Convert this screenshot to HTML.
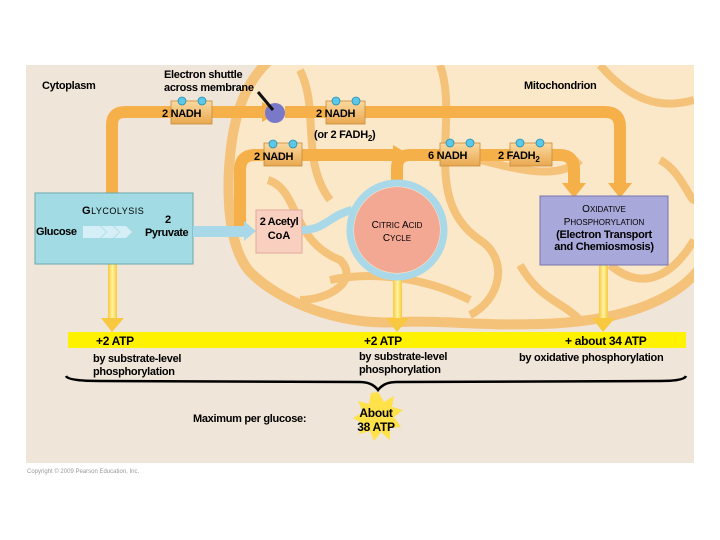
<!DOCTYPE html>
<html><head><meta charset="utf-8"><style>
html,body{margin:0;padding:0;background:#fff;}
svg{display:block;font-family:"Liberation Sans",Arial,sans-serif;}
</style></head><body>
<svg width="720" height="540" viewBox="0 0 720 540" xmlns="http://www.w3.org/2000/svg">
<defs>
<linearGradient id="yg" x1="0" x2="1"><stop offset="0" stop-color="#f7c840"/><stop offset="0.5" stop-color="#fff4a0"/><stop offset="1" stop-color="#f7c840"/></linearGradient>
<linearGradient id="nb" x1="0" y1="0" x2="0" y2="1"><stop offset="0" stop-color="#fbd9a0"/><stop offset="1" stop-color="#e8a850"/></linearGradient>
<clipPath id="pc"><rect x="26" y="65" width="668" height="398"/></clipPath>
</defs>
<rect x="26" y="65" width="668" height="398" fill="#efe5d8"/>
<g clip-path="url(#pc)">
<path d="M275,55 L710,55 L710,250 C690,300 620,322 540,324 C480,326 440,320 400,322 C340,326 280,302 250,272 C222,240 226,160 236,120 C243,92 255,72 275,55 Z" fill="#fbe8c8" stroke="#f5c27a" stroke-width="10"/>
<g fill="none" stroke="#f5c27a" stroke-width="8">
<path d="M300,70 C320,110 300,160 330,200"/>
<path d="M268,180 C300,190 290,240 340,260 C360,280 330,300 300,300"/>
<path d="M330,280 C380,270 430,280 470,300"/>
<path d="M440,65 C460,120 420,200 480,240 C510,260 500,300 470,315"/>
<path d="M480,160 C520,170 560,180 580,160"/>
<path d="M600,65 C630,100 660,110 694,100"/>
<path d="M610,265 C640,290 670,280 694,240"/>
<path d="M520,265 C540,300 560,300 580,320"/>
<path d="M660,160 C680,170 690,200 694,200"/>
</g>
</g>
<g fill="none" stroke="#f5b04a" stroke-width="12" stroke-linejoin="round">
<path d="M112,196 L112,125 Q112,112 125,112 L265,112"/>
<path d="M285,112 L605,112 Q620,112 620,127 L620,185"/>
<path d="M240,228 L240,170 Q240,155 255,155 L395,155"/>
<path d="M397,185 L397,168 Q397,155 410,155 L560,155 Q574,155 574,170 L574,185"/>
</g>
<g fill="#f5b04a">
<polygon points="262,102 280,112 262,122"/>
<polygon points="393,145 410,155 393,165"/>
<polygon points="608,183 632,183 620,198"/>
<polygon points="562,183 586,183 574,198"/>
</g>
<circle cx="275" cy="113" r="10" fill="#7a78c8"/>
<line x1="258" y1="92" x2="273" y2="110" stroke="#111" stroke-width="3"/>
<rect x="108" y="264" width="9" height="56" fill="url(#yg)"/>
<polygon points="101,318 124,318 112,332" fill="#f7c840"/>
<rect x="393" y="280" width="9" height="40" fill="url(#yg)"/>
<polygon points="386,318 409,318 397,332" fill="#f7c840"/>
<rect x="599" y="265" width="9" height="55" fill="url(#yg)"/>
<polygon points="592,318 615,318 603,332" fill="#f7c840"/>
<rect x="35" y="193" width="158" height="71" fill="#a2dbe3" stroke="#6aa8b0"/>
<text x="82" y="214" font-size="11" font-weight="bold" letter-spacing="0.5">G<tspan font-size="9" font-weight="normal">LYCOLYSIS</tspan></text>
<polygon points="83,226 100,226 106,232 100,238 83,238" fill="#d6eef5"/>
<polygon points="101,226 113,226 119,232 113,238 101,238 107,232" fill="#d6eef5"/>
<polygon points="114,226 126,226 132,232 126,238 114,238 120,232" fill="#d6eef5"/>
<g font-weight="bold" font-size="11" letter-spacing="-0.4">
<text x="36" y="235">Glucose</text>
<text x="165" y="223">2</text>
<text x="145" y="236">Pyruvate</text>
</g>
<rect x="193" y="226" width="52" height="11" fill="#a9d8e8"/>
<polygon points="244,221 256,231 244,241" fill="#a9d8e8"/>
<rect x="256" y="210" width="46" height="43" fill="#f9d0c0" stroke="#e0a898"/>
<text x="279" y="225" font-size="11" font-weight="bold" text-anchor="middle" letter-spacing="-0.4">2 Acetyl</text>
<text x="279" y="239" font-size="11" font-weight="bold" text-anchor="middle">CoA</text>
<path d="M302,230 C325,230 330,215 352,210" fill="none" stroke="#a9d8e8" stroke-width="8"/>
<circle cx="397" cy="230" r="47" fill="none" stroke="#a9d8e8" stroke-width="7"/>
<circle cx="397" cy="230" r="43" fill="#f3a894"/>
<text x="397" y="228" font-size="10" text-anchor="middle">C<tspan font-size="8">ITRIC</tspan> A<tspan font-size="8">CID</tspan></text>
<text x="397" y="241" font-size="10" text-anchor="middle">C<tspan font-size="8">YCLE</tspan></text>
<rect x="540" y="196" width="128" height="69" fill="#a9a8da" stroke="#7676b0"/>
<text x="604" y="212" font-size="10" text-anchor="middle">O<tspan font-size="8">XIDATIVE</tspan></text>
<text x="604" y="225" font-size="10" text-anchor="middle">P<tspan font-size="8">HOSPHORYLATION</tspan></text>
<text x="604" y="238" font-size="11" font-weight="bold" text-anchor="middle" letter-spacing="-0.3">(Electron Transport</text>
<text x="604" y="250" font-size="11" font-weight="bold" text-anchor="middle" letter-spacing="-0.3">and Chemiosmosis)</text>
<g stroke="#c88a3a" stroke-width="0.8">
<rect x="171" y="101" width="41" height="23" fill="url(#nb)"/>
<rect x="326" y="101" width="39" height="23" fill="url(#nb)"/>
<rect x="264" y="143" width="38" height="23" fill="url(#nb)"/>
<rect x="440" y="143" width="40" height="23" fill="url(#nb)"/>
<rect x="510" y="143" width="42" height="23" fill="url(#nb)"/>
</g>
<g fill="#5bc8e8" stroke="#2a8cb0" stroke-width="0.8">
<circle cx="182" cy="101" r="4"/><circle cx="202" cy="101" r="4"/>
<circle cx="336" cy="101" r="4"/><circle cx="356" cy="101" r="4"/>
<circle cx="273" cy="144" r="4"/><circle cx="293" cy="144" r="4"/>
<circle cx="450" cy="143" r="4"/><circle cx="470" cy="143" r="4"/>
<circle cx="520" cy="143" r="4"/><circle cx="540" cy="143" r="4"/>
</g>
<g font-size="11" font-weight="bold" letter-spacing="-0.3">
<text x="162" y="117">2 NADH</text>
<text x="316" y="117">2 NADH</text>
<text x="254" y="160">2 NADH</text>
<text x="428" y="159">6  NADH</text>
<text x="498" y="159">2  FADH<tspan font-size="8" dy="3">2</tspan></text>
<text x="314" y="138">(or 2 FADH<tspan font-size="8" dy="3">2</tspan><tspan dy="-3">)</tspan></text>
<text x="42" y="89">Cytoplasm</text>
<text x="164" y="78">Electron shuttle</text>
<text x="164" y="91">across membrane</text>
<text x="524" y="89">Mitochondrion</text>
</g>
<rect x="68" y="332" width="618" height="16" fill="#fff200"/>
<g font-size="12" font-weight="bold" letter-spacing="-0.3">
<text x="96" y="345">+2 ATP</text>
<text x="364" y="345">+2 ATP</text>
<text x="565" y="345">+ about 34 ATP</text>
</g>
<g font-size="11" font-weight="bold" letter-spacing="-0.3">
<text x="93" y="362">by substrate-level</text>
<text x="93" y="375">phosphorylation</text>
<text x="359" y="360">by substrate-level</text>
<text x="359" y="373">phosphorylation</text>
<text x="519" y="361">by oxidative phosphorylation</text>
<text x="193" y="422">Maximum per glucose:</text>
</g>
<path d="M66,376 Q68,381 100,381 L360,382 Q372,382 378,390 Q384,382 396,382 L660,381 Q684,381 686,376" fill="none" stroke="#000" stroke-width="2.5"/>
<polygon points="378,392 384,402 394,396 392,407 403,410 394,417 401,427 390,428 390,440 381,432 374,441 370,431 359,434 363,424 353,418 363,412 358,401 369,404 371,393" fill="#ffe14a"/>
<text x="376" y="417" font-size="12" font-weight="bold" text-anchor="middle" letter-spacing="-0.3">About</text>
<text x="376" y="431" font-size="12" font-weight="bold" text-anchor="middle" letter-spacing="-0.3">38 ATP</text>
<text x="27" y="473" font-size="6" fill="#999">Copyright © 2009 Pearson Education, Inc.</text>
</svg>
</body></html>
